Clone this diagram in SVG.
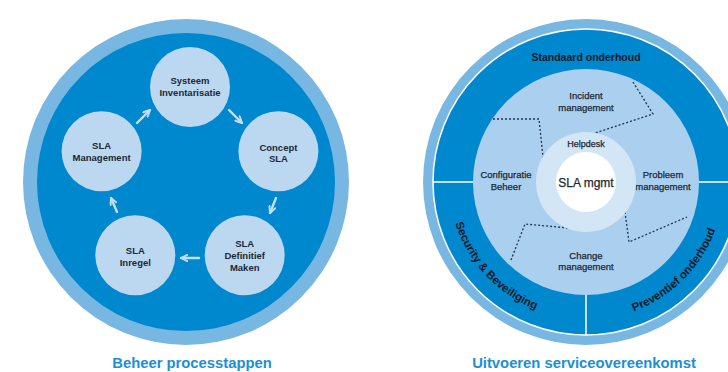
<svg xmlns="http://www.w3.org/2000/svg" width="728" height="372" viewBox="0 0 728 372">
<style>
.ring{fill:#79b7e3}
.dark{fill:#0088cf}
.node{fill:#bcd8f1}
.lt{font-family:"Liberation Sans",Arial,sans-serif;font-weight:bold;font-size:9.5px;fill:#1b2836;text-anchor:middle}
.rt{font-family:"Liberation Sans",Arial,sans-serif;font-size:9.5px;fill:#1b2836;stroke:#1b2836;stroke-width:0.25;text-anchor:middle}
.band{font-family:"Liberation Sans",Arial,sans-serif;font-weight:bold;font-size:10.5px;fill:#0d1a28}
.title{font-family:"Liberation Sans",Arial,sans-serif;font-weight:bold;font-size:14.8px;fill:#1a8fd6;text-anchor:middle}
.arrow{fill:none;stroke:#c3ddf3;stroke-width:2.4;stroke-linecap:round;stroke-linejoin:round}
.dots{fill:none;stroke:#1f3550;stroke-width:1.3;stroke-dasharray:2 2}
.sep{stroke:#ffffff;stroke-width:1.5}
</style>
<defs>
<marker id="head" viewBox="0 0 10 10" refX="9" refY="5" markerWidth="8" markerHeight="8" markerUnits="userSpaceOnUse" orient="auto">
<path d="M1,1 L9,5 L1,9" fill="none" stroke="#c3ddf3" stroke-width="2.4" stroke-linecap="round" stroke-linejoin="round"/>
</marker>
<path id="arcSec" d="M449,182 A137,137 0 0 0 576.4,318.7"/>
<path id="arcPrev" d="M590.8,319.9 A138,138 0 0 0 723.9,186.8"/>
</defs>

<!-- Left diagram -->
<g id="left-base">
<circle class="ring" cx="186" cy="182" r="163"/>
<circle class="dark" cx="186" cy="182" r="149"/>
</g>
<g id="connectors">
<path class="arrow" d="M137,123 L150,110" marker-end="url(#head)"/>
<path class="arrow" d="M229,110 L242,123" marker-end="url(#head)"/>
<path class="arrow" d="M276,198 L270,213" marker-end="url(#head)"/>
<path class="arrow" d="M199,258 L181,258" marker-end="url(#head)"/>
<path class="arrow" d="M117,212 L111,198" marker-end="url(#head)"/>
</g>
<g id="n-systeem">
<circle class="node" cx="190" cy="87" r="40"/>
<text class="lt" x="190" y="84">Systeem</text>
<text class="lt" x="190" y="95.5">Inventarisatie</text>
</g>
<g id="n-concept">
<circle class="node" cx="278.4" cy="151.3" r="40"/>
<text class="lt" x="278.4" y="150.5">Concept</text>
<text class="lt" x="278.4" y="162">SLA</text>
</g>
<g id="n-definitief">
<circle class="node" cx="244.7" cy="255.2" r="40"/>
<text class="lt" x="244.7" y="246.5">SLA</text>
<text class="lt" x="244.7" y="258.5">Definitief</text>
<text class="lt" x="244.7" y="270.5">Maken</text>
</g>
<g id="n-inregel">
<circle class="node" cx="135.3" cy="255.2" r="40"/>
<text class="lt" x="135.3" y="253.5">SLA</text>
<text class="lt" x="135.3" y="265.5">Inregel</text>
</g>
<g id="n-management">
<circle class="node" cx="101.6" cy="151.3" r="40"/>
<text class="lt" x="101.6" y="148.5">SLA</text>
<text class="lt" x="101.6" y="160.5">Management</text>
</g>
<text class="title" x="192" y="368">Beheer processtappen</text>

<!-- Right diagram -->
<g id="right-base">
<circle class="ring" cx="586" cy="182" r="163"/>
<circle class="dark" cx="586" cy="182" r="153" stroke="#ffffff" stroke-width="1.5"/>
<line class="sep" x1="433" y1="182" x2="473" y2="182"/>
<line class="sep" x1="699" y1="182" x2="739" y2="182"/>
<line class="sep" x1="586" y1="295" x2="586" y2="335"/>
</g>
<g id="band-standaard">
<text class="band" x="586" y="61" text-anchor="middle">Standaard onderhoud</text>
</g>
<g id="band-security">
<text class="band" style="font-size:11.5px"><textPath href="#arcSec" startOffset="50%" text-anchor="middle">Security &amp; Beveiliging</textPath></text>
</g>
<g id="band-preventief">
<text class="band" style="font-size:11.5px"><textPath href="#arcPrev" startOffset="50%" text-anchor="middle">Preventief onderhoud</textPath></text>
</g>
<g id="processes">
<circle cx="586" cy="182" r="113" fill="#abcfee"/>
<path class="dots" d="M493,119 L539,119 L543,157"/>
<path class="dots" d="M633,82 L653,114 L595,133"/>
<path class="dots" d="M625,212 L629,242 L687,217"/>
<path class="dots" d="M568,228 L525,224 L511,260"/>
</g>
<g id="p-incident">
<text class="rt" x="586" y="98.5">Incident</text>
<text class="rt" x="586" y="110.5">management</text>
</g>
<g id="p-config">
<text class="rt" x="506" y="177.5">Configuratie</text>
<text class="rt" x="506" y="189.5">Beheer</text>
</g>
<g id="p-probleem">
<text class="rt" x="663" y="177.5">Probleem</text>
<text class="rt" x="663" y="189.5">management</text>
</g>
<g id="p-change">
<text class="rt" x="586" y="258.5">Change</text>
<text class="rt" x="586" y="270">management</text>
</g>
<g id="helpdesk">
<circle cx="586" cy="182" r="50" fill="#d3e6f6"/>
<text class="rt" x="586" y="147" style="font-size:9px">Helpdesk</text>
</g>
<g id="sla-mgmt">
<circle cx="586" cy="182" r="30" fill="#ffffff"/>
<text class="rt" x="586" y="186.5" style="font-size:12px">SLA mgmt</text>
</g>
<text class="title" x="584" y="368">Uitvoeren serviceovereenkomst</text>
</svg>
